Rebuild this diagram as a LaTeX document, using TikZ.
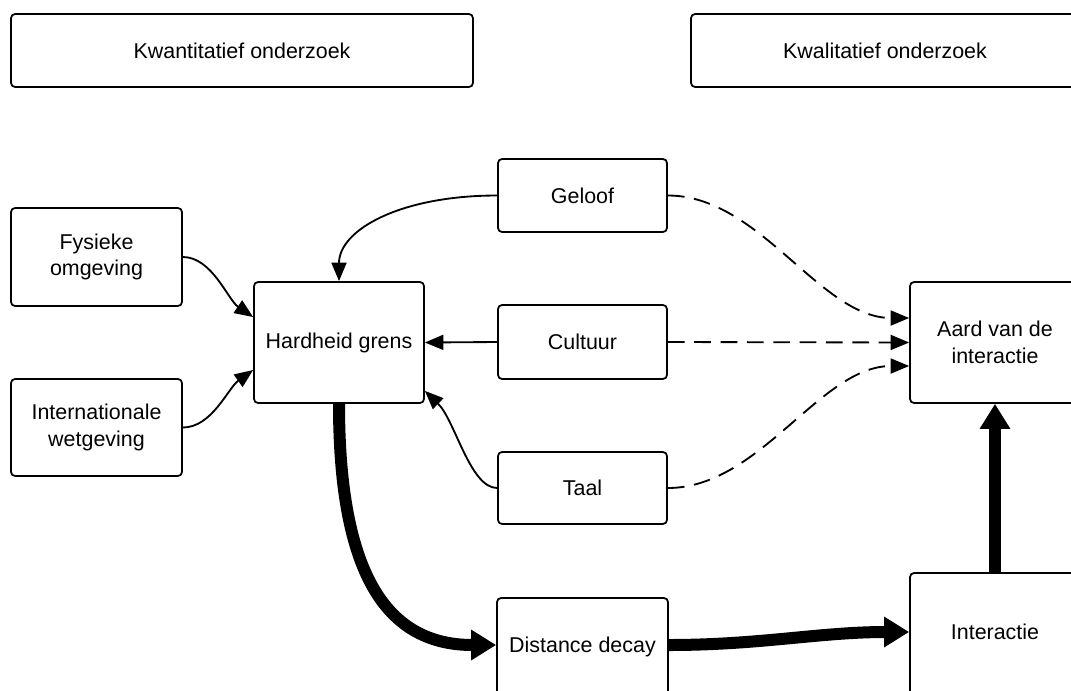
\documentclass[tikz,border=0pt]{standalone}
\usepackage{fontspec}
\setmainfont{Liberation Sans}
\usetikzlibrary{arrows.meta}
\begin{document}
\begin{tikzpicture}[x=0.02cm,y=-0.02cm,
  box/.style={draw,line width=1pt,rounded corners=0.08cm,inner sep=0pt,align=center,
    font=\fontsize{12.2pt}{15.3pt}\selectfont},
  thin/.style={line width=1.05pt,-{Triangle[length=0.37cm,width=0.3cm]}},
  dashy/.style={thin,dash pattern=on 9.5pt off 5.5pt},
  thick/.style={line width=0.24cm,-{Triangle[length=0.5cm,width=0.58cm]}}]
\useasboundingbox (0,0) rectangle (1071,690);
\clip (0,0) rectangle (1071,690);
\node[box,minimum width=9.24cm,minimum height=1.46cm] (kwan) at (242,50.5) {Kwantitatief onderzoek};
\node[box,minimum width=7.76cm,minimum height=1.46cm] (kwal) at (885,50.5) {Kwalitatief onderzoek};
\node[box,minimum width=3.42cm,minimum height=1.96cm] (fys) at (96.5,257) {Fysieke\\omgeving};
\node[box,minimum width=3.42cm,minimum height=1.94cm] (int) at (96.5,427.5) {Internationale\\wetgeving};
\node[box,minimum width=3.4cm,minimum height=2.42cm] (hard) at (339,342.5) {Hardheid grens};
\node[box,minimum width=3.38cm,minimum height=1.46cm] (gel) at (582.5,195.5) {Geloof};
\node[box,minimum width=3.38cm,minimum height=1.48cm] (cul) at (582.5,342) {Cultuur};
\node[box,minimum width=3.38cm,minimum height=1.44cm] (taal) at (582.5,488) {Taal};
\node[box,minimum width=3.42cm,minimum height=2.04cm] (dd) at (582.5,649) {\raisebox{0.16cm}{Distance decay}};
\node[box,minimum width=3.4cm,minimum height=2.5cm] (inter) at (995,635.5) {\raisebox{0.14cm}{Interactie}};
\node[box,minimum width=3.4cm,minimum height=2.42cm] (aard) at (995,342.5) {Aard van de\\interactie};
% thin connectors
\draw[thin] (gel.west) .. controls (400,195.5) and (339,230) .. (hard.north);
\draw[thin] (cul.west) -- (hard.east);
\draw[thin] (taal.west) .. controls (470,488) and (455,420) .. ([yshift=0.26cm]hard.south east);
\draw[thin] (fys.east) .. controls (212,257) and (228,300) .. ([yshift=0.51cm]hard.west);
\draw[thin] (int.east) .. controls (212,427.5) and (228,388) .. ([yshift=-0.55cm]hard.west);
% dashed connectors
\draw[dashy] (gel.east) .. controls (760,195.5) and (820,318) .. ([yshift=0.49cm]aard.west);
\draw[dashy] (cul.east) -- (aard.west);
\draw[dashy] (taal.east) .. controls (760,488) and (820,366) .. ([yshift=-0.47cm]aard.west);
% thick connectors
\draw[thick] (hard.south) .. controls (339,580) and (390,645) .. ([yshift=0.08cm]dd.west);
\draw[thick] ([yshift=0.08cm]dd.east) .. controls (760,645) and (820,632) .. ([yshift=0.07cm]inter.west);
\draw[thick] (inter.north) -- (aard.south);
\end{tikzpicture}
\end{document}
